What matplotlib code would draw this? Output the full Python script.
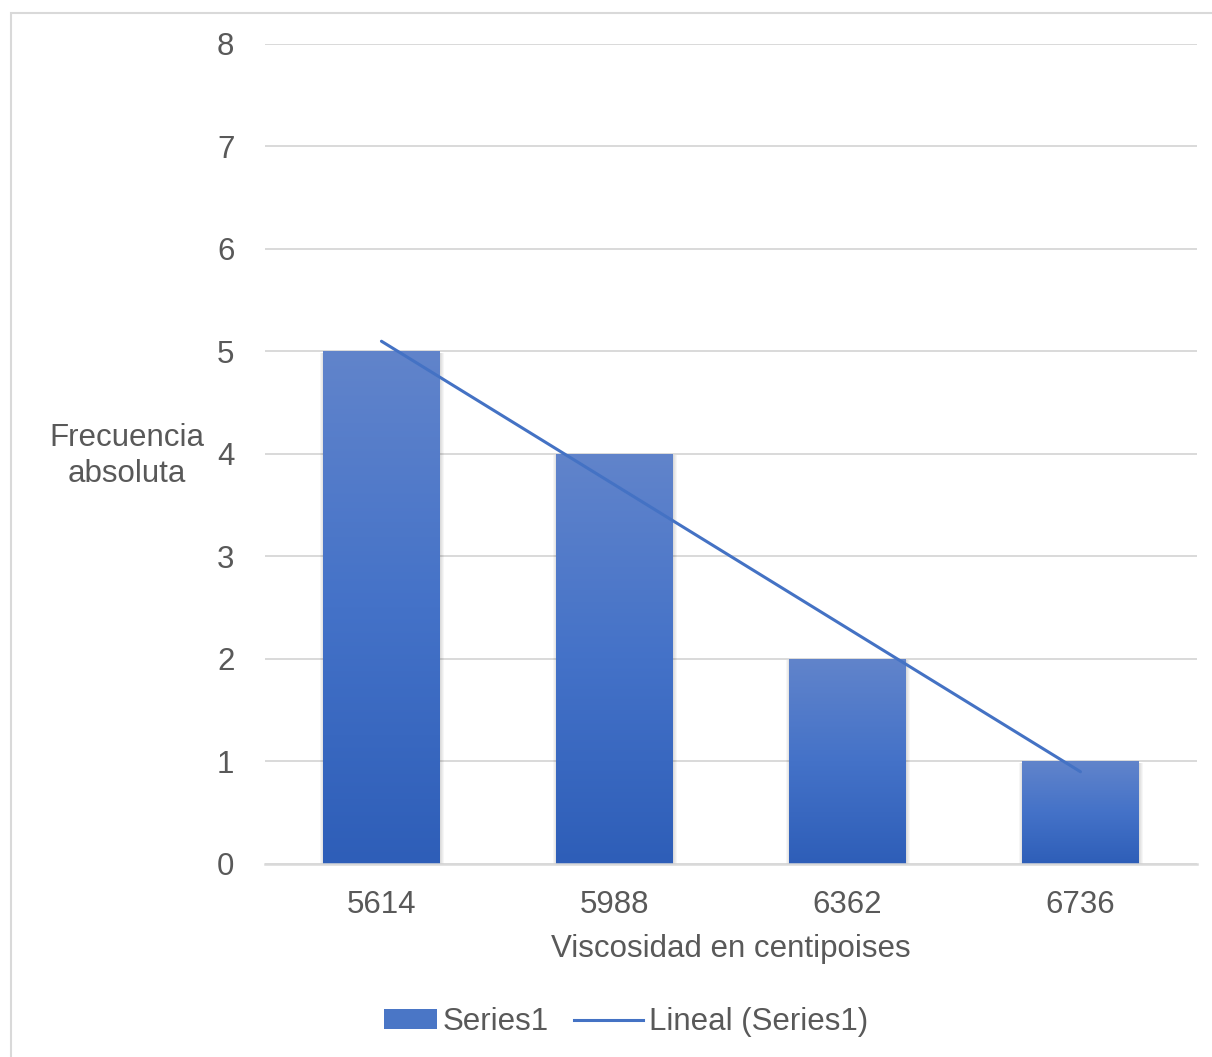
import numpy as np
import matplotlib.pyplot as plt
from matplotlib.patches import Rectangle
from matplotlib.colors import LinearSegmentedColormap
from matplotlib.lines import Line2D
from matplotlib.legend_handler import HandlerPatch

plt.rcParams['font.family'] = ['Liberation Sans', 'DejaVu Sans']

# Viscosity classes and their absolute frequencies
categories = ['5614', '5988', '6362', '6736']
frequencies = [5, 4, 2, 1]

TEXT = '#595959'
GRID = '#D9D9D9'
BLUE = '#4472C4'

grad = LinearSegmentedColormap.from_list('bar', ['#2E5EB8', '#4472C8', '#6184CB'])

fig = plt.figure(figsize=(12.12, 10.57), dpi=100)
ax = fig.add_axes([0.2186, 0.1826, 0.769, 0.7758])

# outer chart border (runs off the bottom and right edges)
fig.patches.append(Rectangle((11 / 1212, -0.05), 1, 1.05 - 13 / 1057, transform=fig.transFigure,
                             fill=False, edgecolor='#D9D9D9', linewidth=1.5, zorder=0))

x = np.arange(len(categories))
width = 0.5
gradient = np.linspace(0, 1, 256).reshape(-1, 1)

for xi, h in zip(x, frequencies):
    # soft shadow behind each bar
    for k in range(4):
        pad = 0.004 * (k + 1)
        ax.add_patch(Rectangle((xi - width / 2 - pad + 0.003, -0.025 * (k + 1)),
                               width + 2 * pad, h + 0.025 * (k + 1) - 0.01,
                               facecolor='black', edgecolor='none', alpha=0.035, zorder=1))
    bar = ax.bar(xi, h, width, color='none', edgecolor='none', zorder=2)[0]
    im = ax.imshow(gradient, cmap=grad, aspect='auto', origin='lower',
                   extent=[xi - width / 2, xi + width / 2, 0, h], zorder=2)
    im.set_clip_path(bar)

# linear trendline over the bars
coef = np.polyfit(x + 1, frequencies, 1)
trend = np.polyval(coef, x + 1)
ax.plot(x, trend, color=BLUE, linewidth=2.2, solid_capstyle='round', zorder=3)

ax.set_xlim(-0.5, 3.5)
ax.set_ylim(0, 8)
ax.set_yticks(range(0, 9))
ax.set_xticks(x)
ax.set_xticklabels(categories)
ax.yaxis.grid(True, color=GRID, linewidth=1.4)
ax.set_axisbelow(True)
for side in ['top', 'right', 'left']:
    ax.spines[side].set_visible(False)
ax.spines['bottom'].set_color(GRID)
ax.spines['bottom'].set_linewidth(1.8)
ax.tick_params(axis='both', length=0, labelsize=22.5, colors=TEXT)
ax.tick_params(axis='y', pad=22)
ax.tick_params(axis='x', pad=19)

ax.set_xlabel('Viscosidad en centipoises', fontsize=22.5, color=TEXT, labelpad=10)
fig.text(127 / 1212, 1 - 456 / 1057, 'Frecuencia\nabsoluta', fontsize=22.5, color=TEXT,
         ha='center', va='center', linespacing=1.22)


def narrow_box(legend, orig_handle, xdescent, ydescent, width, height, fontsize):
    w = width * 0.77
    return Rectangle((width - w - xdescent, -ydescent), w, height)


handles = [Rectangle((0, 0), 1, 1, facecolor='#4A76C6', edgecolor='none'),
           Line2D([0], [0], color=BLUE, linewidth=2.2)]
fig.legend(handles, ['Series1', 'Lineal (Series1)'], loc='center',
           bbox_to_anchor=(0.51, 1 - 1022 / 1057), ncol=2, frameon=False,
           fontsize=22.5, labelcolor=TEXT, handlelength=2.2, handletextpad=0.2,
           columnspacing=0.8, handleheight=0.6,
           handler_map={Rectangle: HandlerPatch(patch_func=narrow_box)})

fig.savefig('out.png', dpi=100)
